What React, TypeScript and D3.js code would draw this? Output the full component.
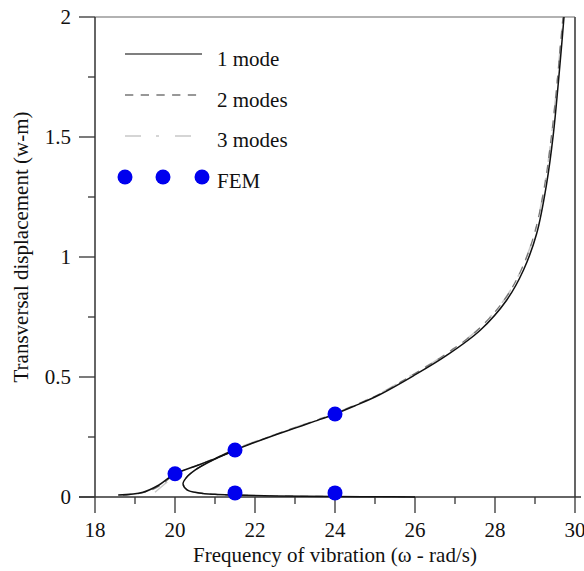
import React from "react";
import * as d3 from "d3";

const xTicks = [18, 20, 22, 24, 26, 28, 30];
const xMinor = [19, 21, 23, 25, 27, 29];
const yTicks = [0, 0.5, 1, 1.5, 2];
const yTickLabels = ["0", "0.5", "1", "1.5", "2"];
const yMinor = [0.25, 0.75, 1.25, 1.75];

// 1 mode
const mode1UpperW = [18.58, 19.2, 19.6, 20.0, 20.5, 21.0, 21.5, 22.0, 22.5, 23.0, 23.5, 24.0, 24.5, 25.1, 25.96, 26.79, 27.63, 28.29, 28.71, 29.04, 29.29, 29.46, 29.58, 29.67, 29.725];
const mode1UpperA = [0.008, 0.02, 0.05, 0.097, 0.128, 0.16, 0.197, 0.228, 0.258, 0.287, 0.316, 0.346, 0.38, 0.425, 0.505, 0.59, 0.695, 0.82, 0.945, 1.097, 1.305, 1.514, 1.72, 1.89, 2.0];
const mode1LowerW = [21.4, 20.9, 20.5, 20.28, 20.2, 20.3, 20.6, 21.0, 21.5, 22.5, 24.0, 25.0, 26.0];
const mode1LowerA = [0.187, 0.15, 0.112, 0.08, 0.055, 0.03, 0.017, 0.011, 0.008, 0.004, 0.002, 0.001, 0.0];

// 2 modes
const mode2UpperW = [18.7, 19.25, 19.65, 20.0, 20.5, 21.0, 21.5, 22.0, 22.5, 23.0, 23.5, 24.0, 24.5, 25.1, 25.93, 26.75, 27.58, 28.24, 28.66, 28.99, 29.25, 29.42, 29.55, 29.64, 29.7];
const mode2UpperA = [0.008, 0.02, 0.05, 0.095, 0.128, 0.161, 0.198, 0.229, 0.26, 0.289, 0.318, 0.348, 0.383, 0.428, 0.508, 0.593, 0.698, 0.823, 0.948, 1.1, 1.308, 1.517, 1.723, 1.893, 2.0];
const mode2LowerW = [21.4, 20.9, 20.5, 20.28, 20.2, 20.3, 20.6, 21.0, 21.5, 22.5, 24.0, 25.0, 26.0];
const mode2LowerA = [0.187, 0.15, 0.112, 0.08, 0.055, 0.03, 0.017, 0.011, 0.008, 0.004, 0.002, 0.001, 0.0];

// 3 modes
const mode3UpperW = [19.5, 19.75, 20.0, 20.5, 21.0, 21.5, 22.0, 22.5, 23.0, 23.5, 24.0, 24.5, 25.1, 25.93, 26.75, 27.58, 28.24, 28.66, 28.99, 29.25, 29.42, 29.55, 29.64, 29.7];
const mode3UpperA = [0.02, 0.055, 0.09, 0.127, 0.162, 0.2, 0.231, 0.261, 0.29, 0.319, 0.349, 0.384, 0.429, 0.509, 0.594, 0.699, 0.824, 0.949, 1.101, 1.309, 1.518, 1.724, 1.894, 2.0];

// FEM
const femW = [20.0, 21.5, 24.0, 21.5, 24.0];
const femA = [0.097, 0.196, 0.346, 0.017, 0.017];

const legendLabels = ["1 mode", "2 modes", "3 modes", "FEM"];

const W = 584;
const H = 571;
const x = d3.scaleLinear().domain([18, 30]).range([95, 575]);
const y = d3.scaleLinear().domain([0, 2]).range([497, 17]);

const line = d3
  .line<[number, number]>()
  .x((d) => x(d[0]))
  .y((d) => y(d[1]))
  .curve(d3.curveCatmullRom.alpha(0.5));

const pts = (ws: number[], as: number[]) => ws.map((w, i) => [w, as[i]] as [number, number]);

const font = "'Liberation Serif', 'Times New Roman', serif";
const FS = 21;

export default function App() {
  return (
    <svg
      width={W}
      height={H}
      style={{ position: "absolute", left: 0, top: 0, background: "#fff" }}
      fontFamily={font}
    >
      <rect x={0} y={0} width={W} height={H} fill="#fff" />
      {/* frame top and right */}
      <line x1={x(18)} x2={x(30)} y1={y(2)} y2={y(2)} stroke="#666" strokeWidth={1.2} />
      <line x1={x(30)} x2={x(30)} y1={y(2)} y2={y(0)} stroke="#555" strokeWidth={1.8} />
      {/* axes */}
      <line x1={x(18)} x2={x(18)} y1={y(2)} y2={y(0)} stroke="#333" strokeWidth={1.5} />
      <line x1={79} x2={581} y1={y(0)} y2={y(0)} stroke="#333" strokeWidth={1.5} />
      {xTicks.map((t) => (
        <g key={"xt" + t}>
          <line x1={x(t)} x2={x(t)} y1={y(0)} y2={y(0) + 16} stroke="#333" strokeWidth={1.3} />
          <text x={x(t)} y={537} fontSize={FS} textAnchor="middle" fill="#111">
            {t}
          </text>
        </g>
      ))}
      {xMinor.map((t) => (
        <line key={"xm" + t} x1={x(t)} x2={x(t)} y1={y(0)} y2={y(0) + 7} stroke="#333" strokeWidth={1.3} />
      ))}
      {yTicks.map((t, i) => (
        <g key={"yt" + t}>
          <line x1={x(18) - 16} x2={x(18)} y1={y(t)} y2={y(t)} stroke="#333" strokeWidth={1.3} />
          <text x={71} y={y(t) + 7} fontSize={FS} textAnchor="end" fill="#111">
            {yTickLabels[i]}
          </text>
        </g>
      ))}
      {yMinor.map((t) => (
        <line key={"ym" + t} x1={x(18) - 7} x2={x(18)} y1={y(t)} y2={y(t)} stroke="#333" strokeWidth={1.3} />
      ))}
      <text x={335} y={562} fontSize={FS} textAnchor="middle" fill="#111">
        Frequency of vibration (ω - rad/s)
      </text>
      <text
        transform={`translate(28,247) rotate(-90)`}
        fontSize={FS}
        textAnchor="middle"
        fill="#111"
      >
        Transversal displacement (w-m)
      </text>

      {/* series */}
      <path d={line(pts(mode3UpperW, mode3UpperA)) || ""} fill="none" stroke="#c8c8c8" strokeWidth={1.5} strokeDasharray="16 15 3 16" />
      <path d={line(pts(mode2UpperW, mode2UpperA)) || ""} fill="none" stroke="#777" strokeWidth={1.3} strokeDasharray="8 7" />
      <path d={line(pts(mode2LowerW, mode2LowerA)) || ""} fill="none" stroke="#777" strokeWidth={1.3} strokeDasharray="8 7" />
      <path d={line(pts(mode1UpperW, mode1UpperA)) || ""} fill="none" stroke="#111" strokeWidth={1.5} />
      <path d={line(pts(mode1LowerW, mode1LowerA)) || ""} fill="none" stroke="#111" strokeWidth={1.5} />

      {femW.map((w, i) => (
        <circle key={"fem" + i} cx={x(w)} cy={y(femA[i])} r={7.5} fill="#0000ee" />
      ))}

      {/* legend */}
      <line x1={125} x2={202} y1={54} y2={54} stroke="#555" strokeWidth={1.5} />
      <line x1={125} x2={202} y1={95} y2={95} stroke="#777" strokeWidth={1.3} strokeDasharray="8.3 7.4" />
      <line x1={125} x2={202} y1={136} y2={136} stroke="#c8c8c8" strokeWidth={1.5} strokeDasharray="16 15 3 16" />
      {[125, 163, 202].map((cx) => (
        <circle key={"lc" + cx} cx={cx} cy={177} r={7.5} fill="#0000ee" />
      ))}
      {legendLabels.map((l, i) => (
        <text key={l} x={217} y={66 + i * 40.7} fontSize={FS} fill="#111">
          {l}
        </text>
      ))}
    </svg>
  );
}
